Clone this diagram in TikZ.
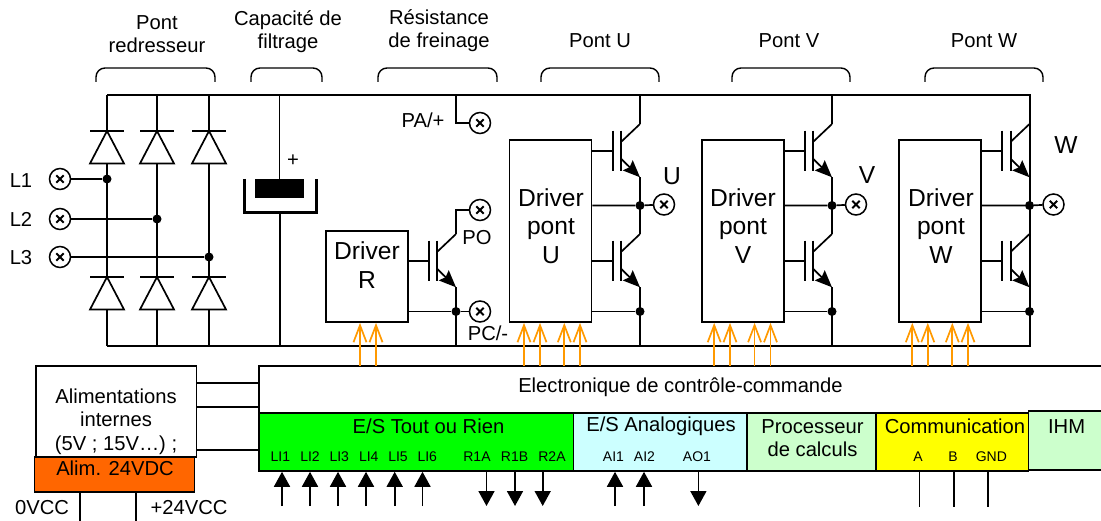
\documentclass[tikz,border=0pt]{standalone}
\usepackage{fontspec}
\setmainfont{Liberation Sans}
\usetikzlibrary{arrows.meta}
\definecolor{ctrlorange}{RGB}{255,153,0}
\definecolor{alimorange}{RGB}{255,102,0}
\definecolor{torgreen}{RGB}{0,255,0}
\definecolor{anacyan}{RGB}{204,255,255}
\definecolor{palegreen}{RGB}{204,255,204}
\definecolor{commyellow}{RGB}{255,255,0}
\tikzset{
    wire/.style={line width=1.7pt},
    brack/.style={line width=1.4pt,rounded corners=9pt},
    dot/.style={circle,fill=black,inner sep=0pt,minimum size=9pt},
    terminal/.style={circle,draw,fill=white,line width=1.5pt,inner sep=0pt,minimum size=21pt,
        path picture={\draw[line width=1.9pt] ([shift={(-3.7,-3.7)}]path picture bounding box.center) -- ++(7.4,7.4)
            ([shift={(-3.7,3.7)}]path picture bounding box.center) -- ++(7.4,-7.4);}},
    txt/.style={inner sep=0pt,align=center,font=\fontsize{20.2}{23}\selectfont},
    bigtxt/.style={inner sep=0pt,align=center,font=\fontsize{24.6}{28.5}\selectfont},
    smalltxt/.style={inner sep=0pt,font=\fontsize{14}{16}\selectfont},
    box/.style={draw,line width=1.7pt,inner sep=0pt},
    ctrl/.style={wire,ctrlorange,-{Straight Barb[length=17pt,width=13pt]}},
    sig/.style={wire,-{Triangle[length=15pt,width=16pt]}},
    diode/.pic={
        \draw[wire] (-17,0) -- (17,0);
        \draw[wire] (0,0) -- (17,32.5) -- (-17,32.5) -- cycle;
        \coordinate (-k) at (0,0);
        \coordinate (-a) at (0,32.5);
    },
    igbt/.pic={
        \draw[wire] (-27.3,-20.3) -- (-27.3,19.7);
        \draw[wire] (-18.7,-20.3) -- (-18.7,19.7);
        \draw[wire] (-18.7,-9.3) -- (0,-27);
        \draw[wire,-{Stealth[length=17pt,width=14pt,inset=2.5pt]}] (-18.7,8) -- (0,26.3);
        \coordinate (-c) at (0,-27);
        \coordinate (-e) at (0,26.3);
        \coordinate (-g) at (-27.3,0);
    }
}
\begin{document}
\begin{tikzpicture}[x=1pt,y=-1pt]
    \useasboundingbox (0,0) rectangle (1101,521);
    \clip (0,0) rectangle (1101,521);

    % titres et accolades
    \node[txt] (tPR) at (157,34) {Pont\\redresseur};
    \node[txt] (tCF) at (288,32) {Capacité de\\filtrage};
    \node[txt] (tRF) at (439,31) {Résistance\\de freinage};
    \node[txt] (tPU) at (600,41) {Pont U};
    \node[txt] (tPV) at (789,41) {Pont V};
    \node[txt] (tPW) at (984,41) {Pont W};
    \foreach \a/\b in {96/215,251/322,378/497,541/659,732/850,925/1043}
        \draw[brack] (\a,82) -- (\a,68) -- (\b,68) -- (\b,82);

    % rails
    \coordinate (railTL) at (107,95);
    \coordinate (railTR) at (1030,95);
    \coordinate (railBL) at (107,346);
    \coordinate (railBR) at (1030,346);
    \draw[wire] (railBL) -- (railBR) -- (railTR) -- (railTL);

    % pont redresseur
    \node[terminal] (L1) at (60,179) {};
    \node[terminal] (L2) at (60,219) {};
    \node[terminal] (L3) at (60,257) {};
    \node[txt] (tL1) at (21,181) {L1};
    \node[txt] (tL2) at (21,219) {L2};
    \node[txt] (tL3) at (21,258) {L3};
    \foreach \n/\x/\l/\y in {1/107/L1/179,2/157/L2/219,3/209/L3/257} {
        \pic (dh\n) at (\x,131) {diode};
        \pic (db\n) at (\x,277) {diode};
        \node[dot] (j\n) at (\x,\y) {};
        \draw[wire] (\x,95) -- (dh\n-k);
        \draw[wire] (dh\n-a) -- (db\n-k);
        \draw[wire] (db\n-a) -- (\x,346);
        \draw[wire] (\l) -- (j\n);
    }

    % capacite
    \node[fill=black,inner sep=0pt,minimum width=49pt,minimum height=19pt] (capa) at (279.5,188.5) {};
    \coordinate (cuvL) at (244,179);
    \coordinate (cuvB) at (280,213);
    \coordinate (cuvR) at (316,179);
    \draw[line width=3pt] (cuvL) |- (cuvB) -| (cuvR);
    \draw[wire] (capa.north |- railTL) -- (capa.north);
    \draw[wire] (cuvB) -- (cuvB |- railBL);
    \node[txt] (tplus) at (293,161) {+};

    % freinage
    \node[terminal] (PA) at (480,123) {};
    \node[txt] (tPA) at (423,120) {PA/+};
    \draw[wire] (PA) -| (456,95);
    \node[box,minimum width=82pt,minimum height=91pt] (drvR) at (367,276.5) {};
    \node[bigtxt] (tR) at (367,265) {Driver\\R};
    \pic (igR) at (456,261) {igbt};
    \node[terminal] (PO) at (480,210) {};
    \node[terminal] (PC) at (480,311.5) {};
    \node[dot] (jR) at (456,311.5) {};
    \node[txt] (tPO) at (477,238) {PO};
    \node[txt] (tPC) at (488,333) {PC/-};
    \draw[wire] (drvR.east |- igR-g) -- (igR-g);
    \draw[wire] (igR-c) |- (PO);
    \draw[wire] (igR-e) -- (igR-e |- railBL);
    \draw[wire] (drvR.east |- jR) -- (jR) -- (PC);

    % ponts U, V, W
    \foreach \p/\xm/\xt/\c/\ty/\tx in {U/550.5/551/640/176/672,V/743/743/832/175/867,W/940/941/1029.5/145/1066} {
        \node[box,minimum width=82pt,minimum height=182pt] (drv\p) at (\xm,231) {};
        \node[bigtxt] (t\p) at (\xt,226) {Driver\\pont\\\p};
        \pic (ig\p h) at (\c,151) {igbt};
        \pic (ig\p b) at (\c,261) {igbt};
        \node[dot] (j\p m) at (\c,205.5) {};
        \node[dot] (j\p b) at (\c,311.5) {};
        \node[terminal] (S\p) at (\c+24,204.5) {};
        \node[txt,font=\fontsize{24.6}{28}\selectfont] (tS\p) at (\tx,\ty) {\p};
        \draw[wire] (ig\p h-c) -- (ig\p h-c |- railTL);
        \draw[wire] (ig\p h-e) -- (ig\p b-c);
        \draw[wire] (ig\p b-e) -- (ig\p b-e |- railBL);
        \draw[wire] (drv\p.east |- ig\p h-g) -- (ig\p h-g);
        \draw[wire] (drv\p.east |- ig\p b-g) -- (ig\p b-g);
        \draw[wire] (drv\p.east |- j\p m) -- (j\p m) -- (S\p);
        \draw[wire] (drv\p.east |- j\p b) -- (j\p b);
    }

    % alimentations
    \node[box,minimum width=160.5pt,minimum height=90.7pt] (alim) at (116.2,411.4) {};
    \node[txt,font=\fontsize{20.2}{23.5}\selectfont] (talim) at (116,421.5) {Alimentations\\internes\\(5V ; 15V…) ;};
    \node[box,fill=alimorange,minimum width=160.2pt,minimum height=35pt] (alim24) at (114.5,474.2) {};
    \node[txt] (talim24) at (115,468) {Alim. 24VDC};
    \coordinate (v0) at (80,521);
    \coordinate (v24) at (136,521);
    \draw[wire] (v0) -- (v0 |- alim24.south);
    \draw[wire] (v24) -- (v24 |- alim24.south);
    \node[txt] (t0) at (42,508) {0VCC};
    \node[txt] (t24) at (189,508) {+24VCC};

    % controle-commande
    \node[box,minimum width=845pt,minimum height=46.7pt] (cc) at (681.5,389.4) {};
    \node[txt] (tcc) at (680.5,387) {Electronique de contrôle-commande};
    \foreach \y in {383.3,407.3,450} {
        \coordinate (ali) at (196.4,\y);
        \draw[wire] (ali) -- (ali -| cc.west);
    }
    \node[box,fill=torgreen,minimum width=314.4pt,minimum height=58.3pt] (tor) at (416.2,441.8) {};
    \node[box,fill=anacyan,minimum width=173.4pt,minimum height=58.3pt] (ana) at (660.3,441.8) {};
    \node[box,fill=palegreen,minimum width=129pt,minimum height=58.3pt] (proc) at (811.5,441.8) {};
    \node[box,fill=commyellow,minimum width=152.6pt,minimum height=58.3pt] (comm) at (952.3,441.8) {};
    \node[box,fill=palegreen,minimum width=76pt,minimum height=59pt] (ihm) at (1066.6,440.5) {};
    \node[txt] (ttor) at (428.5,426) {E/S Tout ou Rien};
    \node[txt] (tana) at (661,426) {E/S Analogiques};
    \node[txt] (tproc) at (812.5,438.5) {Processeur\\de calculs};
    \node[txt] (tcomm) at (955,426) {Communication};
    \node[txt] (tihm) at (1066.6,427) {IHM};
    \foreach \n/\x in {LI1/280.4,LI2/310,LI3/339.3,LI4/368.8,LI5/398,LI6/427.3,R1A/477,R1B/514.6,R2A/552,AI1/613.5,AI2/644.5,AO1/697,A/918,B/953,GND/991.3}
        \node[smalltxt] (l\n) at (\x,456.5) {\n};

    % entrees et sorties
    \foreach \x in {282,310,338,366,394.7,422.5} {
        \coordinate (ent) at (\x,506);
        \draw[sig] (ent) -- (ent |- tor.south);
    }
    \foreach \x in {486.5,515,542.7} {
        \coordinate (sor) at (\x,506);
        \draw[sig] (sor |- tor.south) -- (sor);
    }
    \foreach \x in {615,644} {
        \coordinate (ent) at (\x,506);
        \draw[sig] (ent) -- (ent |- ana.south);
    }
    \coordinate (sorAO) at (698.4,506);
    \draw[sig] (sorAO |- ana.south) -- (sorAO);
    \foreach \x in {919.6,954,988} {
        \coordinate (bus) at (\x,507);
        \draw[wire] (bus |- comm.south) -- (bus);
    }

    % ordres vers les drivers
    \foreach \d/\xs in {drvR/{360,376},drvU/{524,540,564.3,580},drvV/{714.2,730,754.6,770.5},drvW/{912.3,927.8,952.3,968}}
        \foreach \x in \xs {
            \coordinate (ord) at (\x,366);
            \draw[ctrl] (ord) -- (ord |- \d.south);
        }
\end{tikzpicture}
\end{document}
